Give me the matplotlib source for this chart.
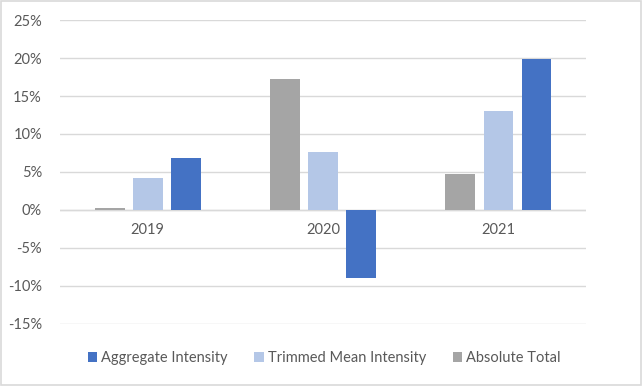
import numpy as np
import matplotlib
matplotlib.use("Agg")
import matplotlib.pyplot as plt
from matplotlib.patches import Rectangle
from matplotlib.ticker import FuncFormatter

years = ["2019", "2020", "2021"]
absolute_total = [0.3, 17.3, 4.7]
trimmed_mean = [4.2, 7.6, 13.0]
aggregate = [6.9, -8.9, 19.9]

c_abs = "#a5a5a5"
c_trim = "#b4c7e7"
c_agg = "#4472c4"
txt = "#595959"

plt.rcParams['font.family'] = ['Lato', 'DejaVu Sans']

fig = plt.figure(figsize=(6.42, 3.86), dpi=100)
ax = fig.add_axes([0.0935, 0.161, 0.8195, 0.787])

x = np.arange(len(years))
w = 0.17
step = 0.217
ax.bar(x - step, absolute_total, w, color=c_abs, label="Absolute Total", zorder=3)
ax.bar(x, trimmed_mean, w, color=c_trim, label="Trimmed Mean Intensity", zorder=3)
ax.bar(x + step, aggregate, w, color=c_agg, label="Aggregate Intensity", zorder=3)

ax.set_xlim(-0.5, 2.5)
ax.set_ylim(-15, 25)
ax.set_yticks(np.arange(-15, 26, 5))
ax.yaxis.set_major_formatter(FuncFormatter(lambda v, p: f"{int(v)}%"))
ax.grid(axis="y", color="#d9d9d9", linewidth=1, zorder=0)
ax.axhline(0, color="#d9d9d9", linewidth=1, zorder=2)
for s in ax.spines.values():
    s.set_visible(False)
ax.tick_params(axis="both", length=0, labelsize=10.5, colors=txt)
ax.tick_params(axis="y", pad=13)
ax.set_xticks([])
for i, yr in enumerate(years):
    ax.text(x[i], -2.6, yr, ha="center", va="center", fontsize=10.5, color=txt, zorder=4)

handles, labels = ax.get_legend_handles_labels()
order = [2, 1, 0]
leg = fig.legend([handles[i] for i in order], [labels[i] for i in order],
                 loc="center", bbox_to_anchor=(0.505, 0.072), ncol=3, frameon=False,
                 fontsize=10.5, handlelength=0.65, handleheight=0.65, handletextpad=0.3,
                 columnspacing=1.8)
for t in leg.get_texts():
    t.set_color(txt)

fig.patches.append(Rectangle((0.002, 0.003), 0.996, 0.994, transform=fig.transFigure,
                             fill=False, edgecolor="#d9d9d9", linewidth=1.2))

fig.savefig("out.png", dpi=100)
